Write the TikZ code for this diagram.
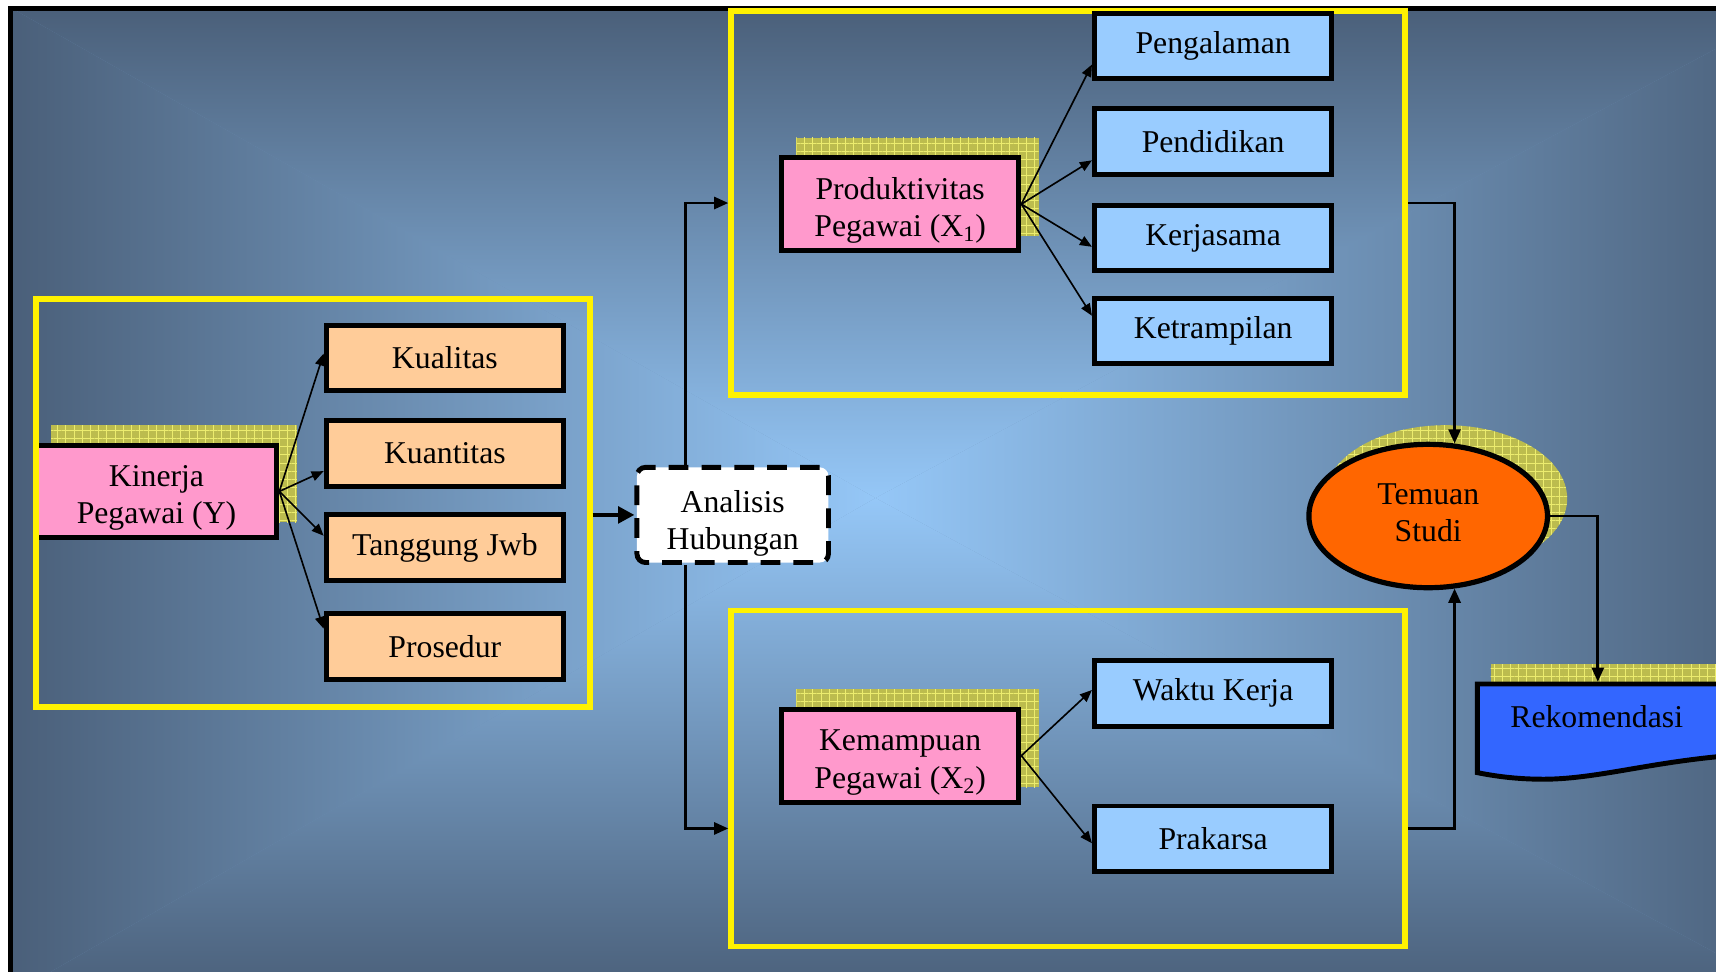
\documentclass[tikz,border=0pt]{standalone}
\usepackage{fontspec}
\setmainfont{Liberation Serif}
\usetikzlibrary{shapes.geometric,arrows.meta,calc,patterns.meta}
\definecolor{bgdark}{HTML}{4A5F79}
\definecolor{bgmid}{HTML}{6F93BB}
\definecolor{bglight}{HTML}{95C7F7}
\definecolor{pinkbox}{HTML}{FF99CC}
\definecolor{orangebox}{HTML}{FFCC99}
\definecolor{bluebox}{HTML}{99CCFF}
\definecolor{ovalorange}{HTML}{FF6600}
\definecolor{rekblue}{HTML}{3366FF}
\definecolor{shadowol}{RGB}{188,188,78}
\definecolor{shadowgrid}{RGB}{236,236,110}
\pgfdeclarelayer{bg}\pgfdeclarelayer{shd}\pgfsetlayers{bg,shd,main}
\newcommand{\twolines}[3]{\raisebox{#1}[0pt][0pt]{\begin{tabular}{@{}c@{}}#2\\#3\end{tabular}}}
\begin{document}
\begin{tikzpicture}[x=0.2mm,y=-0.2mm,
 every node/.style={font=\fontsize{16.5}{19.5}\selectfont, align=center, inner sep=0pt},
 cbox/.style={rectangle, draw=black, line width=0.9mm, minimum width=43.4mm},
 sbox/.style={cbox, fill=orangebox, minimum height=12mm},
 bbox/.style={cbox, fill=bluebox, minimum height=12mm},
 pbox/.style={cbox, fill=pinkbox, minimum height=17mm},
 yframe/.style={rectangle, draw=yellow, line width=1mm},
 spoke/.style={-{Triangle[length=2.2mm,width=1.8mm]}, line width=0.3mm},
 conn/.style={-{Triangle[length=2.6mm,width=2.2mm]}, line width=0.5mm},
 shadowpat/.style={fill=shadowol, postaction={pattern={Hatch[angle=0,distance=1.5mm,line width=0.25pt]}, pattern color=shadowgrid}}
]
\useasboundingbox (0,0) rectangle (1568,888);
\clip (0,0) rectangle (1568,888);

% background
\begin{pgfonlayer}{bg}
\fill[white] (0,0) rectangle (1568,888);
\fill[bgmid] (8,6) rectangle (1640,910);
\coordinate (C) at (800,455);
\shade[top color=bgdark,bottom color=bglight] (8,6) -- (1640,6) -- (C) -- cycle;
\shade[top color=bglight,bottom color=bgdark] (8,910) -- (1640,910) -- (C) -- cycle;
\shade[left color=bgdark,right color=bglight] (8,6) -- (8,910) -- (C) -- cycle;
\shade[left color=bglight,right color=bgdark] (1640,6) -- (1640,910) -- (C) -- cycle;
\draw[line width=0.9mm] (9.5,7.5) rectangle (1660,930);
\end{pgfonlayer}

% group frames
\node[yframe, minimum width=123.2mm, minimum height=70.2mm] (fx1) at (976,185.5) {};
\node[yframe, minimum width=123.2mm, minimum height=61.4mm] (fx2) at (976,711.5) {};

% left group
\node[pbox, minimum width=44mm, minimum height=16.8mm] (kin) at (143,449) {\twolines{-2.65mm}{Kinerja}{Pegawai (Y)}};
\node[yframe, minimum width=101.2mm, minimum height=74.6mm] (lf) at (286,459.5) {};
\node[sbox] (kual) at (406.5,327) {Kualitas};
\node[sbox] (kuan) at (406.5,414.5) {Kuantitas};
\node[sbox] (tang) at (406.5,500.5) {Tanggung Jwb};
\node[sbox] (pros) at (406.5,590.5) {Prosedur};

% X1 group
\node[pbox] (prod) at (822.5,186.5) {\twolines{-2.65mm}{Produktivitas}{Pegawai (X\textsubscript{1})}};
\node[bbox] (peng) at (1108.5,42) {Pengalaman};
\node[bbox] (pend) at (1108.5,129.5) {Pendidikan};
\node[bbox] (kerj) at (1108.5,217.5) {Kerjasama};
\node[bbox] (ketr) at (1108.5,302.5) {Ketrampilan};

% X2 group
\node[pbox] (kem) at (822.5,690.5) {\twolines{-2.65mm}{Kemampuan}{Pegawai (X\textsubscript{2})}};
\node[bbox] (wakt) at (1108.5,633.5) {Waktu Kerja};
\node[bbox] (prak) at (1108.5,766.5) {Prakarsa};

% analysis
\node[draw, fill=white, line width=0.9mm, dash pattern=on 3.6mm off 2.4mm, rounded corners=1.6mm,
      minimum width=35mm, minimum height=17.4mm] (anal) at (669.5,470.5) {\twolines{-3.05mm}{Analisis}{Hubungan}};

% findings
\node[ellipse, draw, line width=0.95mm, fill=ovalorange, minimum width=43.6mm, minimum height=26.2mm] (tem) at (1305,471.5) {\twolines{-1.45mm}{Temuan}{Studi}};

% recommendation
\draw[line width=0.9mm, fill=rekblue] (1350,625) -- (1640,625) -- (1640,688)
  .. controls (1530,688) and (1470,712) .. (1410,712)
  .. controls (1385,712) and (1365,709) .. (1350,706) -- cycle;
\node (rek) at (1459,655) {Rekomendasi};
\coordinate (rektop) at (1460,623);

% shadows
\begin{pgfonlayer}{shd}
\path[shadowpat] ($(kin.south west)+(16,-16)$) rectangle ($(kin.north east)+(16,-16)$);
\path[shadowpat] ($(prod.south west)+(16,-16)$) rectangle ($(prod.north east)+(16,-16)$);
\path[shadowpat] ($(kem.south west)+(16,-16)$) rectangle ($(kem.north east)+(16,-16)$);
\path[shadowpat] ($(tem.center)+(16,-16)$) ellipse [x radius=22.2mm, y radius=13.4mm];
\path[shadowpat] (1362,607) rectangle (1640,650);
\end{pgfonlayer}

% spokes
\draw[spoke] (kin.east) -- ($(kual.west)+(0,-4)$);
\draw[spoke] (kin.east) -- ($(kuan.west)+(0,16)$);
\draw[spoke] (kin.east) -- ($(tang.west)+(0,-11)$);
\draw[spoke] (kin.east) -- ($(pros.west)+(0,-16)$);
\draw[spoke] (prod.east) -- ($(peng.west)+(0,17)$);
\draw[spoke] (prod.east) -- ($(pend.west)+(0,17)$);
\draw[spoke] (prod.east) -- ($(kerj.west)+(0,8)$);
\draw[spoke] (prod.east) -- ($(ketr.west)+(0,-14)$);
\draw[spoke] (kem.east) -- ($(wakt.west)+(0,-3)$);
\draw[spoke] (kem.east) -- ($(prak.west)+(0,4)$);

% flow connectors
\draw[line width=0.8mm, -{Triangle[length=3mm,width=3mm]}] (lf.east |- anal.west) -- (anal.west);
\draw[conn] ($(anal.north west)!0.26!(anal.north east)$) |- (fx1.west);
\draw[conn] ($(anal.south west)!0.26!(anal.south east)$) |- ($(fx2.west)+(0,45.5)$);
\draw[conn] (fx1.east) -| (tem.70);
\draw[conn] ($(fx2.east)+(0,45.5)$) -| (tem.-70);
\draw[conn] (tem.east) -| (rektop);
\end{tikzpicture}
\end{document}
